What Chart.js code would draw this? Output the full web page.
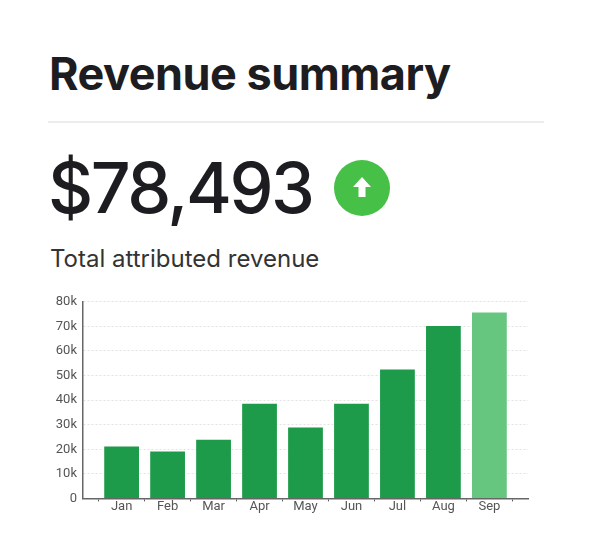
<!DOCTYPE html>
<html>
<head>
<meta charset="utf-8">
<script src="https://cdn.jsdelivr.net/npm/chart.js@4"></script>
<style>
  html, body { margin: 0; padding: 0; background: #fff; }
  body { width: 592px; height: 556px; position: relative; font-family: Inter, Lato, sans-serif; color: #1d1d21; overflow: hidden; }
  #title { position: absolute; left: 49px; top: 46px; font-size: 45px; font-weight: 700; letter-spacing: -0.5px; margin: 0; line-height: 56px; }
  #rule { position: absolute; left: 48px; top: 121px; width: 496px; height: 2px; background: #ececec; }
  #amount { position: absolute; left: 48px; top: 147px; font-size: 70px; font-weight: 500; line-height: 82px; letter-spacing: -2.5px; }
  #badge { position: absolute; left: 334px; top: 160px; width: 56px; height: 56px; }
  #caption { position: absolute; left: 50px; top: 244px; font-size: 24px; font-weight: 400; line-height: 30px; color: #333; }
  #chartBox { position: absolute; left: 40px; top: 288px; width: 494px; height: 225px; }
</style>
</head>
<body>
<h1 id="title">Revenue summary</h1>
<div id="rule"></div>
<div id="amount">$78,493</div>
<svg id="badge" viewBox="0 0 56 56">
  <circle cx="28" cy="28" r="28" fill="#46c046"/>
  <path d="M28 17 L37 27 L31.5 27 L31.5 37 L24.5 37 L24.5 27 L19 27 Z" fill="#fff"/>
</svg>
<div id="caption">Total attributed revenue</div>
<div id="chartBox"><canvas id="revenueChart"></canvas></div>

<script>
// monthly revenue
const months = ['Jan', 'Feb', 'Mar', 'Apr', 'May', 'Jun', 'Jul', 'Aug', 'Sep'];
const revenue = [21500, 19500, 24300, 38900, 29300, 38900, 52900, 70600, 76100];
const yTicks = [0, 10000, 20000, 30000, 40000, 50000, 60000, 70000, 80000];

document.addEventListener('DOMContentLoaded', function() {
    const ctx = document.getElementById('revenueChart').getContext('2d');

    // last month is still in progress, drawn lighter
    const barColors = months.map((m, i) => i === months.length - 1 ? '#66c57f' : '#1e9b4a');
    // x is a linear index axis so the plot can run a bit past the first/last month
    const points = revenue.map((v, i) => ({ x: i, y: v }));

    new Chart(ctx, {
        type: 'bar',
        data: {
            datasets: [{
                label: 'Revenue',
                data: points,
                backgroundColor: barColors,
                borderColor: 'rgba(255, 255, 255, 0.4)',
                borderWidth: 1,
                categoryPercentage: 1,
                barPercentage: 0.8
            }]
        },
        options: {
            responsive: true,
            maintainAspectRatio: false,
            animation: false,
            layout: {
                padding: { top: 2, right: 6 }
            },
            plugins: {
                legend: { display: false },
                tooltip: { enabled: false }
            },
            scales: {
                x: {
                    type: 'linear',
                    offset: false,
                    min: -0.84,
                    max: months.length - 1 + 0.84,
                    afterBuildTicks: function(axis) {
                        axis.ticks = months.map((m, i) => ({ value: i }));
                    },
                    grid: {
                        drawOnChartArea: false,
                        tickLength: 3,
                        color: '#555'
                    },
                    border: { color: '#666', width: 1.5 },
                    ticks: {
                        color: '#555',
                        font: { family: 'Roboto', size: 13 },
                        padding: -2,
                        callback: function(value) {
                            return months[value];
                        }
                    }
                },
                y: {
                    min: 0,
                    max: 80000,
                    afterBuildTicks: function(axis) {
                        axis.ticks = yTicks.map(v => ({ value: v }));
                    },
                    afterFit: function(axis) {
                        axis.width = 43;
                    },
                    grid: {
                        color: '#e2e2e2',
                        drawTicks: false
                    },
                    border: { color: '#666', width: 1.5, dash: [2, 2] },
                    ticks: {
                        color: '#555',
                        font: { family: 'Roboto', size: 13 },
                        padding: 6,
                        callback: function(value) {
                            return value === 0 ? '0' : (value / 1000) + 'k';
                        }
                    }
                }
            }
        }
    });
});
</script>
</body>
</html>
